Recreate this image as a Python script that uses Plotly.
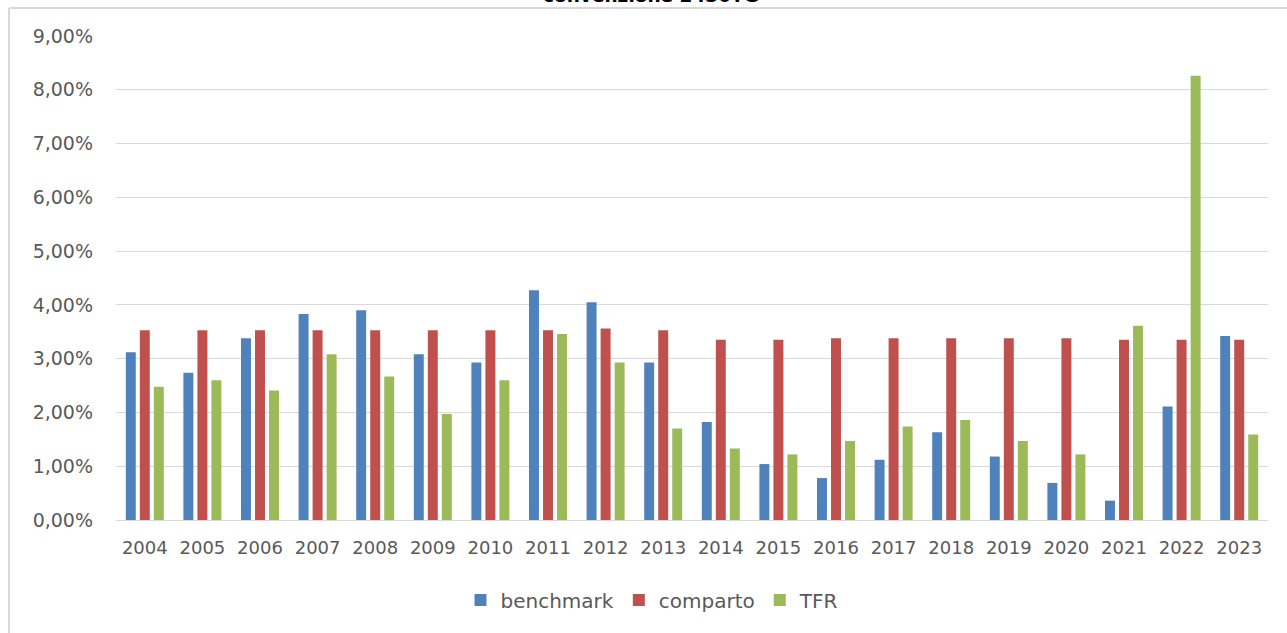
import plotly.graph_objects as go

years = [str(y) for y in range(2004, 2024)]
benchmark = [3.12, 2.74, 3.38, 3.83, 3.90, 3.08, 2.93, 4.27, 4.05, 2.93,
             1.82, 1.04, 0.78, 1.12, 1.63, 1.18, 0.69, 0.36, 2.11, 3.42]
comparto = [3.53, 3.53, 3.53, 3.53, 3.53, 3.53, 3.53, 3.53, 3.56, 3.53,
            3.35, 3.35, 3.38, 3.38, 3.38, 3.38, 3.38, 3.35, 3.35, 3.35]
tfr = [2.48, 2.60, 2.41, 3.08, 2.67, 1.97, 2.60, 3.46, 2.93, 1.70,
       1.33, 1.22, 1.47, 1.74, 1.86, 1.47, 1.22, 3.61, 8.26, 1.59]
y_ticks = [0, 1, 2, 3, 4, 5, 6, 7, 8, 9]
y_tick_labels = ["0,00%", "1,00%", "2,00%", "3,00%", "4,00%",
                 "5,00%", "6,00%", "7,00%", "8,00%", "9,00%"]
title_text = "convenzione 2430TG"

series = [("benchmark", benchmark, "#4F81BD"),
          ("comparto", comparto, "#C0504D"),
          ("TFR", tfr, "#9BBB59")]

fig = go.Figure()
for name, vals, col in series:
    fig.add_trace(go.Bar(x=years, y=vals, name=name, marker_color=col,
                         marker_line_width=0))

font_family = "DejaVu Sans"
W, H = 1287, 633
ml, mr, mt, mb = 116, 19, 36, 113
pw = W - ml - mr
ph = H - mt - mb

fig.update_layout(
    width=W, height=H,
    margin=dict(l=ml, r=mr, t=mt, b=mb, pad=0),
    paper_bgcolor="white", plot_bgcolor="white",
    barmode="group", bargap=0.27, bargroupgap=0.29,
    font=dict(family=font_family, color="#595959", size=18),
    showlegend=True,
    legend=dict(orientation="h", x=(652 - ml) / pw, xanchor="center",
                y=(ph - (600 - mt)) / ph, yanchor="middle",
                font=dict(size=20, color="#595959"),
                itemwidth=30, traceorder="normal"),
    xaxis=dict(showgrid=False, showline=False, zeroline=False,
               ticks="", ticklabelstandoff=15,
               tickfont=dict(size=18, color="#595959")),
    yaxis=dict(range=[0, 9], tickvals=y_ticks, ticktext=y_tick_labels,
               showgrid=True, gridcolor="#D9D9D9", gridwidth=1,
               zeroline=True, zerolinecolor="#D9D9D9", zerolinewidth=1,
               showline=False, ticks="", ticklabelstandoff=22,
               tickfont=dict(size=19, color="#595959")),
    shapes=[
        dict(type="line", xref="paper", yref="paper",
             x0=(9 - ml) / pw, x1=(W - ml) / pw,
             y0=(ph + mt - 8) / ph, y1=(ph + mt - 8) / ph,
             line=dict(color="#D9D9D9", width=2)),
        dict(type="line", xref="paper", yref="paper",
             x0=(9 - ml) / pw, x1=(9 - ml) / pw,
             y0=(ph + mt - 8) / ph, y1=-(mb + 5) / ph,
             line=dict(color="#D9D9D9", width=2)),
    ],
    annotations=[
        dict(text="<b>" + title_text + "</b>", xref="paper", yref="paper",
             x=(651 - ml) / pw, y=(ph + mt - 7) / ph, xanchor="center",
             yanchor="bottom", showarrow=False, borderpad=0,
             font=dict(size=18.5, color="black", family=font_family)),
    ],
)

fig.write_html("out.html", config={"displayModeBar": False},
               post_script="document.body.style.margin='0';document.body.style.overflow='hidden';")
